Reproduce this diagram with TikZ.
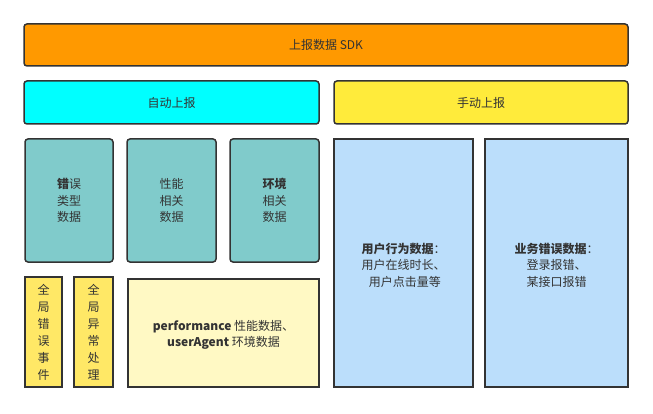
\documentclass[tikz,border=0pt]{standalone}
\usepackage{fontspec}
\setmainfont{Noto Sans CJK SC}
\definecolor{edge}{HTML}{333333}
\definecolor{txt}{HTML}{333333}
\definecolor{sdkc}{HTML}{FF9900}
\definecolor{autoc}{HTML}{00FFFF}
\definecolor{manc}{HTML}{FFEB3B}
\definecolor{tealc}{HTML}{80CBCB}
\definecolor{yelc}{HTML}{FFE866}
\definecolor{paleyel}{HTML}{FFF9C4}
\definecolor{bluec}{HTML}{BBDEFB}
\begin{document}
\begin{tikzpicture}[x=1pt,y=-1pt,
  boxr/.style={draw=edge, line width=1.5pt, rounded corners=3pt},
  boxs/.style={draw=edge, line width=1.5pt},
  lbl/.style={text=txt, font=\fontsize{12}{16.5}\selectfont, align=center, inner sep=0pt}]
\useasboundingbox (0,0) rectangle (653,414);
\draw[boxr, fill=sdkc] (24,24) rectangle (628,66);
\node[lbl] (sdk) at (326,45) {上报数据 SDK};
\draw[boxr, fill=autoc] (24,81) rectangle (319,124);
\node[lbl] (auto) at (171.5,102.5) {自动上报};
\draw[boxr, fill=manc] (334,81) rectangle (628,124);
\node[lbl] (man) at (481,102.5) {手动上报};
\draw[boxr, fill=tealc] (25,139) rectangle (113,262);
\node[lbl] (err) at (69,200.5) {\textbf{错}误\\类型\\数据};
\draw[boxr, fill=tealc] (127,139) rectangle (216,262);
\node[lbl] (perf) at (171.5,200.5) {性能\\相关\\数据};
\draw[boxr, fill=tealc] (230,139) rectangle (319,262);
\node[lbl] (env) at (274.5,200.5) {\textbf{环境}\\相关\\数据};
\draw[boxs, fill=yelc] (25,277) rectangle (62,387);
\node[lbl, font=\fontsize{12}{17}\selectfont] (gerr) at (43.5,332) {全\\局\\错\\误\\事\\件};
\draw[boxs, fill=yelc] (74,277) rectangle (113,387);
\node[lbl, font=\fontsize{12}{17}\selectfont] (gexc) at (93.5,332) {全\\局\\异\\常\\处\\理};
\draw[boxs, fill=paleyel] (128,279) rectangle (319,387);
\node[lbl] (pa) at (223.5,335) {\textbf{performance} 性能数据、\\\textbf{userAgent} 环境数据};
\draw[boxs, fill=bluec] (334,139) rectangle (473,387);
\node[lbl] (ub) at (403.5,265) {\textbf{用户行为数据}：\\用户在线时长、\\\ 用户点击量等};
\draw[boxs, fill=bluec] (485,139) rectangle (628,387);
\node[lbl] (be) at (556.5,265) {\textbf{业务错误数据}：\\登录报错、\\某接口报错};
\end{tikzpicture}
\end{document}
